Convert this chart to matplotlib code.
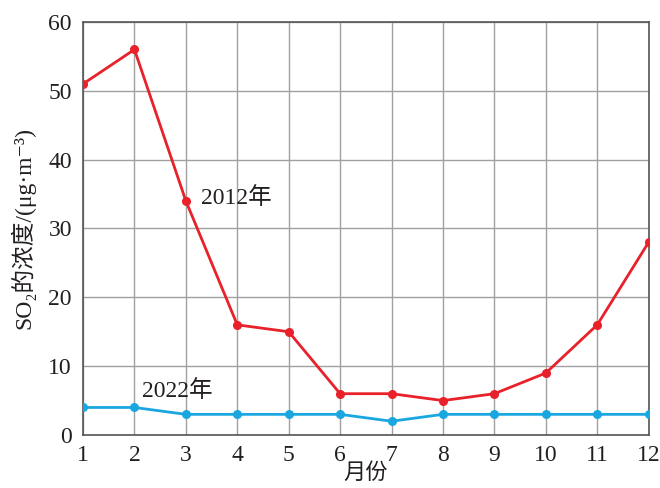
import matplotlib.pyplot as plt

months = list(range(1, 13))
so2_2012 = [51, 56, 34, 16, 15, 6, 6, 5, 6, 9, 16, 28]
so2_2022 = [4, 4, 3, 3, 3, 3, 2, 3, 3, 3, 3, 3]
yticks = [0, 10, 20, 30, 40, 50, 60]

fonts = ['Liberation Serif', 'Noto Sans CJK SC', 'DejaVu Sans']
plt.rcParams['font.family'] = fonts

fig = plt.figure(figsize=(6.6, 4.88), dpi=100)
ax = fig.add_axes([0.1258, 0.1086, 0.857, 0.8464])

ax.plot(months, so2_2012, color='#e8212a', linewidth=2, marker='o', markersize=5.5, zorder=3)
ax.plot(months, so2_2022, color='#1aa7e0', linewidth=2, marker='o', markersize=5.5, zorder=3)

ax.set_xlim(1, 12)
ax.set_ylim(0, 60)
ax.set_xticks(months)
ax.set_yticks(yticks)
ax.grid(True, color='#a0a0a0', linewidth=1)
ax.tick_params(length=0, labelsize=17, colors='#231f20')
ax.tick_params(axis='x', pad=7)
ax.tick_params(axis='y', pad=8)
for s in ax.spines.values():
    s.set_color('#555555')
    s.set_linewidth(1.2)

ax.text(3.3, 33.5, '2012年', fontsize=17, color='#231f20')
ax.text(2.15, 5.5, '2022年', fontsize=17, color='#231f20')

ax.set_xlabel('月份', fontsize=16, color='#231f20', labelpad=-2)
ax.set_ylabel('SO₂的浓度/(μg·m⁻³)', fontsize=17, color='#231f20', labelpad=9)

fig.savefig('out.png', dpi=100)
